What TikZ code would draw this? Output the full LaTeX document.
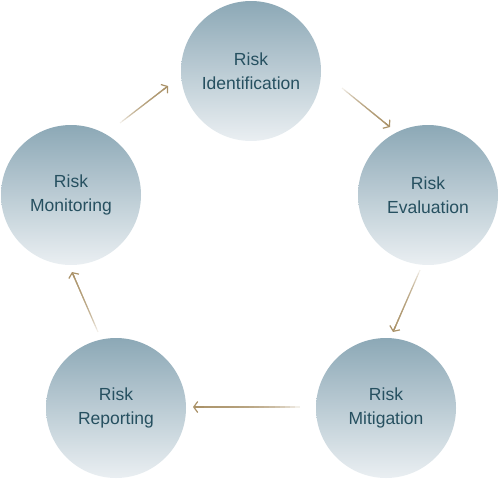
\documentclass[tikz,border=0pt]{standalone}
\usepackage{fontspec}
\setmainfont{Liberation Sans}
\usetikzlibrary{arrows.meta,calc}
\definecolor{circtop}{RGB}{140,168,182}
\definecolor{circmid}{RGB}{192,208,216}
\definecolor{circbot}{RGB}{234,239,242}
\definecolor{txt}{RGB}{38,80,96}
\definecolor{arr}{RGB}{170,146,104}
\newcommand\fadearrow[2]{%
  \foreach \i in {0,...,19}{%
    \pgfmathsetmacro\fa{\i/21}%
    \draw[conn, opacity=0.15] ($(#1)!\fa!(#2)$) -- ($(#1)!0.97!(#2)$);
  }%
  \draw[conn, -{Straight Barb[length=4pt,width=11pt,line width=1.2pt]}] ($(#1)!0.9!(#2)$) -- (#2);
}
\begin{document}
\begin{tikzpicture}[x=1pt,y=-1pt,
  stage/.style={circle, minimum size=140pt, inner sep=0pt,
    top color=circtop, middle color=circmid, bottom color=circbot, draw=none,
    text=txt, font=\fontsize{17.5}{24}\selectfont, align=center},
  conn/.style={draw=arr, line width=1.1pt, line cap=butt}]
\useasboundingbox (0,0) rectangle (500,479);
\node[stage] (id)  at (251,71)  {Risk\\Identification};
\node[stage] (ev)  at (428,195) {Risk\\Evaluation};
\node[stage] (mit) at (386,408) {Risk\\Mitigation};
\node[stage] (rep) at (116,408) {Risk\\Reporting};
\node[stage] (mon) at (71,195)  {Risk\\Monitoring};
\coordinate (a1s) at (342,88);  \coordinate (a1e) at (390,127);
\coordinate (a2s) at (420,270); \coordinate (a2e) at (393,332);
\coordinate (a3s) at (300,407); \coordinate (a3e) at (193,407);
\coordinate (a4s) at (98,332);  \coordinate (a4e) at (72,272);
\coordinate (a5s) at (120,123); \coordinate (a5e) at (168,86);
\fadearrow{a1s}{a1e}
\fadearrow{a2s}{a2e}
\fadearrow{a3s}{a3e}
\fadearrow{a4s}{a4e}
\fadearrow{a5s}{a5e}
\end{tikzpicture}
\end{document}
